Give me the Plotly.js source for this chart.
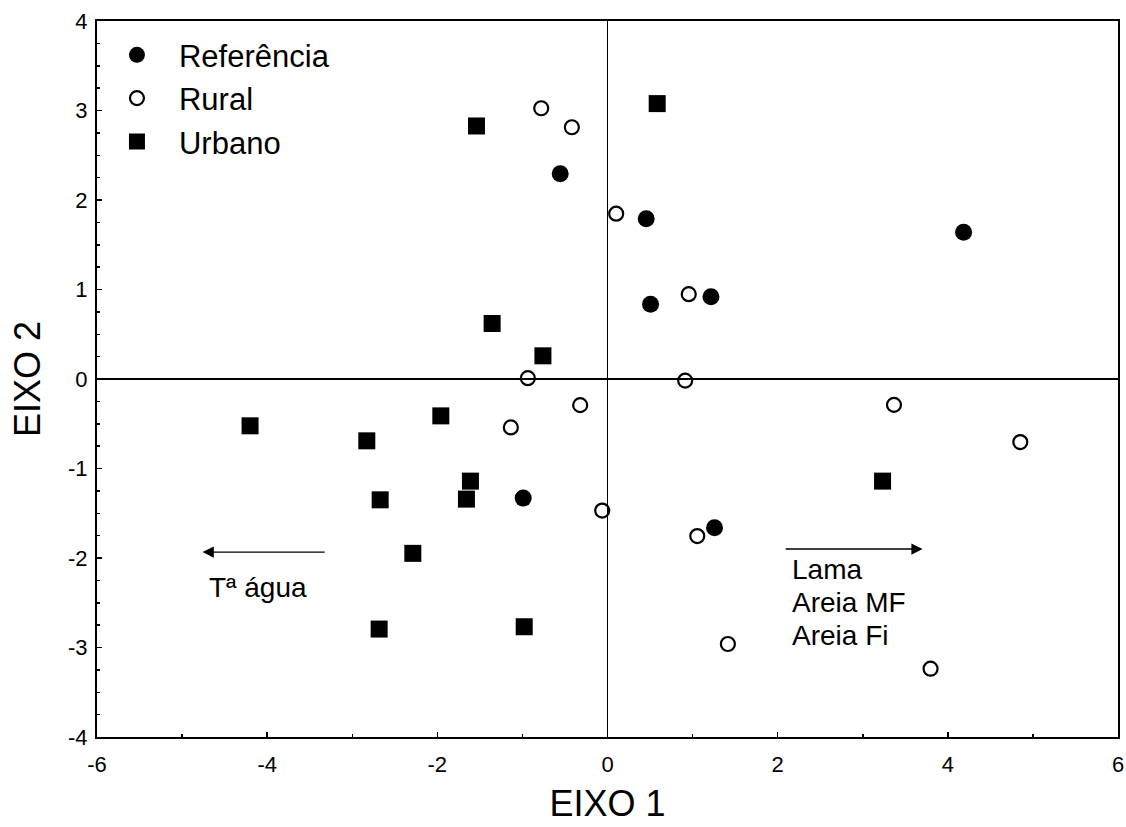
<!DOCTYPE html>
<html>
<head>
<meta charset="utf-8">
<script src="https://cdn.plot.ly/plotly-3.0.1.min.js"></script>
<style>html,body{margin:0;padding:0;background:#fff;}#chart{width:1126px;height:827px;}</style>
</head>
<body>
<div id="chart"></div>
<script>
// Referência (filled circles)
const refX = [-0.556, 0.455, 0.506, 1.216, 4.185, -0.991, 1.258];
const refY = [2.293, 1.791, 0.836, 0.920, 1.640, -1.331, -1.663];
// Rural (open circles)
const rurX = [-0.779, -0.419, 0.102, 0.955, 0.913, -0.936, -0.321, -1.136, -0.062, 1.055, 3.367, 4.852, 1.415, 3.797];
const rurY = [3.025, 2.813, 1.847, 0.948, -0.018, 0.009, -0.292, -0.541, -1.470, -1.755, -0.289, -0.705, -2.961, -3.237];
// Urbano (squares)
const urbX = [-1.540, 0.584, -1.356, -0.759, -4.201, -1.959, -2.829, -1.611, -1.658, -2.672, -2.288, -2.684, -0.979, 3.233];
const urbY = [2.827, 3.077, 0.620, 0.259, -0.523, -0.412, -0.691, -1.141, -1.342, -1.350, -1.948, -2.794, -2.768, -1.141];

const seriesNames = ["Referência", "Rural", "Urbano"];
const xTickVals = [-6, -4, -2, 0, 2, 4, 6];
const xTickText = ["-6", "-4", "-2", "0", "2", "4", "6"];
const yTickVals = [-4, -3, -2, -1, 0, 1, 2, 3, 4];
const yTickText = ["-4", "-3", "-2", "-1", "0", "1", "2", "3", "4"];
const axisTitles = ["EIXO 1", "EIXO 2"];
const leftLabel = "Tª água";
const rightLabels = ["Lama", "Areia MF", "Areia Fi"];

const FONT = "Arial, 'Liberation Sans', sans-serif";

const traces = [
  {x: refX, y: refY, name: seriesNames[0], type: "scatter", mode: "markers",
   marker: {symbol: "circle", size: 17, color: "#000"}},
  {x: rurX, y: rurY, name: seriesNames[1], type: "scatter", mode: "markers",
   marker: {symbol: "circle-open", size: 14, color: "#000", line: {width: 2.2, color: "#000"}}},
  {x: urbX, y: urbY, name: seriesNames[2], type: "scatter", mode: "markers",
   marker: {symbol: "square", size: 17, color: "#000"}}
];

const annotations = [
  {x: 3.703, y: -1.900, ax: 2.077, ay: -1.900, xref: "x", yref: "y", axref: "x", ayref: "y",
   text: "", showarrow: true, arrowhead: 2, arrowsize: 1.6, arrowwidth: 1.4, arrowcolor: "#000"},
  {x: -4.759, y: -1.934, ax: -3.307, ay: -1.934, xref: "x", yref: "y", axref: "x", ayref: "y",
   text: "", showarrow: true, arrowhead: 2, arrowsize: 1.6, arrowwidth: 1.4, arrowcolor: "#000"},
  {x: -4.71, y: -2.325, xref: "x", yref: "y", text: leftLabel, showarrow: false,
   xanchor: "left", yanchor: "middle", font: {family: FONT, size: 28, color: "#000"}},
  {x: 2.148, y: -2.125, xref: "x", yref: "y", text: rightLabels[0], showarrow: false,
   xanchor: "left", yanchor: "middle", font: {family: FONT, size: 28, color: "#000"}},
  {x: 2.148, y: -2.495, xref: "x", yref: "y", text: rightLabels[1], showarrow: false,
   xanchor: "left", yanchor: "middle", font: {family: FONT, size: 28, color: "#000"}},
  {x: 2.148, y: -2.865, xref: "x", yref: "y", text: rightLabels[2], showarrow: false,
   xanchor: "left", yanchor: "middle", font: {family: FONT, size: 28, color: "#000"}}
];

const layout = {
  width: 1126, height: 827,
  margin: {l: 97, r: 8, t: 21, b: 90, pad: 0},
  paper_bgcolor: "#fff", plot_bgcolor: "#fff",
  font: {family: FONT, color: "#000"},
  showlegend: true,
  legend: {x: -0.002, y: 0.99, xanchor: "left", yanchor: "top", bgcolor: "rgba(0,0,0,0)",
           font: {family: FONT, size: 31, color: "#000"}, itemwidth: 74, tracegroupgap: 0},
  xaxis: {range: [-6, 6], tickmode: "array", tickvals: xTickVals, ticktext: xTickText,
          showgrid: false, zeroline: true, zerolinecolor: "#000", zerolinewidth: 1.3,
          showline: true, linecolor: "#000", linewidth: 2, mirror: true,
          ticks: "inside", ticklen: 5, tickwidth: 1.5, tickcolor: "#000",
          ticklabelstandoff: 7,
          minor: {dtick: 1, tick0: 0, ticks: "inside", ticklen: 3, tickwidth: 1.5, tickcolor: "#000", showgrid: false},
          tickfont: {family: FONT, size: 22, color: "#000"},
          title: {text: axisTitles[0], font: {family: FONT, size: 36, color: "#000"}, standoff: 14}},
  yaxis: {range: [-4, 4], tickmode: "array", tickvals: yTickVals, ticktext: yTickText,
          showgrid: false, zeroline: true, zerolinecolor: "#000", zerolinewidth: 1.3,
          showline: true, linecolor: "#000", linewidth: 2, mirror: true,
          ticks: "inside", ticklen: 5, tickwidth: 1.5, tickcolor: "#000",
          ticklabelstandoff: 3,
          minor: {dtick: 0.25, tick0: 0, ticks: "inside", ticklen: 3, tickwidth: 1.5, tickcolor: "#000", showgrid: false},
          tickfont: {family: FONT, size: 22, color: "#000"},
          title: {text: axisTitles[1], font: {family: FONT, size: 36, color: "#000"}, standoff: 16}},
  annotations: annotations
};

Plotly.newPlot("chart", traces, layout, {displayModeBar: false, staticPlot: true});
</script>
</body>
</html>
